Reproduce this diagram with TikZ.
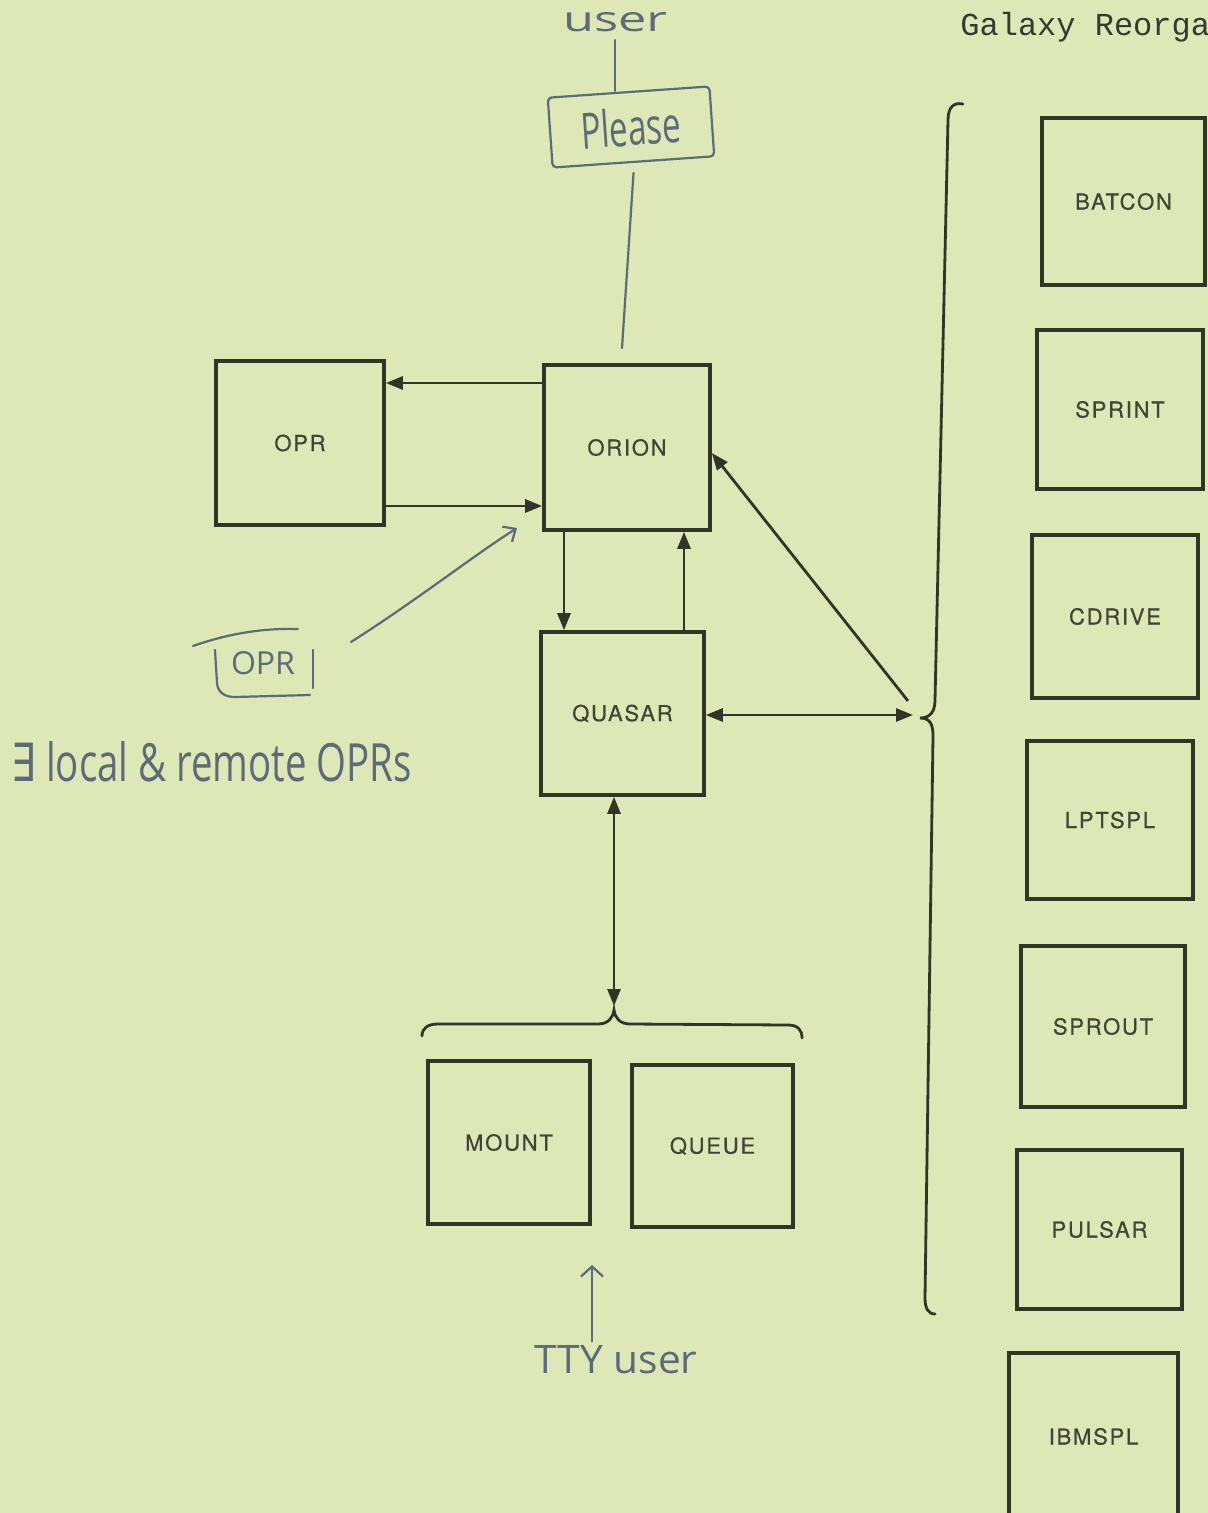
\documentclass[tikz,border=0pt]{standalone}
\usepackage{fontspec}
\usetikzlibrary{arrows.meta,calc}
\setmainfont{TeX Gyre Heros}
\newfontfamily\boxfont[LetterSpace=8,FakeBold=0.6]{TeX Gyre Heros}
\newfontfamily\handfont{Open Sans}
\newfontfamily\symfont{DejaVu Sans}
\newfontfamily\hdrfont{Liberation Mono}
\definecolor{bg}{RGB}{222,231,182}
\definecolor{ink}{RGB}{50,52,40}
\definecolor{txt}{RGB}{66,68,56}
\definecolor{pencilc}{RGB}{92,106,122}
\definecolor{hdr}{RGB}{55,57,48}
\begin{document}
\begin{tikzpicture}[x=0.5pt,y=-0.5pt,
  box/.style={draw=ink, line width=1.8pt, text=txt, inner sep=0pt,
    font={\boxfont\fontsize{11pt}{13pt}\selectfont}},
  arr/.style={draw=ink, line width=1.4pt, -{Triangle[length=8.5pt,width=6.5pt]}},
  arrb/.style={draw=ink, line width=1.4pt, {Triangle[length=8.5pt,width=6.5pt]}-{Triangle[length=8.5pt,width=6.5pt]}},
  bracel/.style={draw=ink, line width=1.4pt, line cap=round},
  pencil/.style={draw=pencilc, line width=1.1pt, line cap=round, line join=round},
  hand/.style={text=pencilc, inner sep=0pt, font=\handfont}]
\useasboundingbox (0,0) rectangle (1208,1513);
\fill[bg] (0,0) rectangle (1208,1513);

% header text
\node[anchor=base west, text=hdr, inner sep=0pt, font={\hdrfont\fontsize{16pt}{18pt}\selectfont}] (hdr) at (960,36) {Galaxy Reorga};

% boxes
\node[box, minimum width=84pt, minimum height=82pt] (opr) at (300,443) {OPR};
\node[box, minimum width=83pt, minimum height=82.5pt] (orion) at (627,447.5) {ORION};
\node[box, minimum width=81.5pt, minimum height=81.5pt] (quasar) at (622.5,713.5) {QUASAR};
\node[box, minimum width=81pt, minimum height=81.5pt] (mount) at (509,1142.5) {MOUNT};
\node[box, minimum width=80.5pt, minimum height=81pt] (queue) at (712.5,1146) {QUEUE};
\node[box, minimum width=81.5pt, minimum height=83.5pt] (batcon) at (1123.5,201.5) {BATCON};
\node[box, minimum width=83pt, minimum height=79.5pt] (sprint) at (1120,409.5) {SPRINT};
\node[box, minimum width=83pt, minimum height=81.5pt] (cdrive) at (1115,616.5) {CDRIVE};
\node[box, minimum width=83pt, minimum height=79pt] (lptspl) at (1110,820) {LPTSPL};
\node[box, minimum width=82pt, minimum height=80.5pt] (sprout) at (1103,1026.5) {SPROUT};
\node[box, minimum width=82.5pt, minimum height=79.5pt] (pulsar) at (1099.5,1229.5) {PULSAR};
\node[box, minimum width=84.5pt, minimum height=83.5pt] (ibmspl) at (1093.5,1436.5) {IBMSPL};

% helper coordinates
\coordinate (r1) at (0,383);
\coordinate (r2) at (0,506);
\coordinate (c1) at (564,0);
\coordinate (c2) at (684,0);
\coordinate (r4) at (0,453);
\coordinate (dg) at (908,701);
\coordinate (rbarr) at (913,715);
\coordinate (lbarr) at (614,1006);

% connectors
\draw[arr] (orion.west |- r1) -- (opr.east |- r1);
\draw[arr] (opr.east |- r2) -- (orion.west |- r2);
\draw[arr] (orion.south -| c1) -- (quasar.north -| c1);
\draw[arr] (quasar.north -| c2) -- (orion.south -| c2);
\draw[arrb] (quasar.east |- rbarr) -- (rbarr);
\draw[arr] (dg) -- (orion.east |- r4);
\draw[arrb] (quasar.south -| lbarr) -- (lbarr);

% right brace
\draw[bracel] (963,104) .. controls (953,102) and (948,108) .. (948,120)
  -- (935,700) .. controls (935,712) and (930,718) .. (920,718)
  .. controls (930,718) and (933,724) .. (933,736)
  -- (925,1298) .. controls (925,1308) and (928,1314) .. (935,1314);

% lower brace
\draw[bracel] (422,1036) .. controls (422,1028) and (428,1024) .. (438,1024)
  -- (598,1024) .. controls (608,1024) and (613,1018) .. (614,1010)
  .. controls (615,1018) and (620,1024) .. (630,1024)
  -- (788,1025) .. controls (798,1025) and (802,1030) .. (802,1038);

% handwritten annotations
\node[hand] (user) at (615,22) {\resizebox{52pt}{9.5pt}{user}};
\node[hand, draw=pencilc, line width=1.1pt, rounded corners=2pt, rotate=4,
  minimum width=81pt, minimum height=35pt] (please) at (631,127) {\resizebox{50pt}{19pt}{Please}\hspace{9pt}};
\draw[pencil] ([yshift=-4pt]user.south) -- (user.south |- please.north);
\coordinate (pend) at (622,348);
\draw[pencil] ([yshift=-5pt]please.south) -- (pend);

\node[hand] (hopr) at (263,663) {\resizebox{32pt}{11.5pt}{OPR}};
\draw[pencil] (193,646) .. controls (230,633) and (265,628) .. (298,629);
\draw[pencil] (215,650) -- (217,683) .. controls (218,693) and (225,697) .. (235,697) -- (310,695);
\draw[pencil] (313,650) -- (313,688);

\coordinate (annS) at (351,642);
\coordinate (annE) at (517,528);
\draw[pencil, -{Straight Barb[length=5pt,width=9pt]}] (annS) .. controls (420,598) and (470,558) .. (annE);

\node[hand] (exists) at (212,762) {\resizebox{200pt}{20pt}{{\symfont ∃} local \& remote OPRs}};

\node[hand] (tty) at (616,1360) {\resizebox{81.5pt}{14pt}{TTY user}};
\coordinate (ttytop) at (592,1265);
\draw[pencil, -{Straight Barb[length=5pt,width=11pt]}] ([yshift=2pt]tty.north -| ttytop) -- (ttytop);
\end{tikzpicture}
\end{document}
